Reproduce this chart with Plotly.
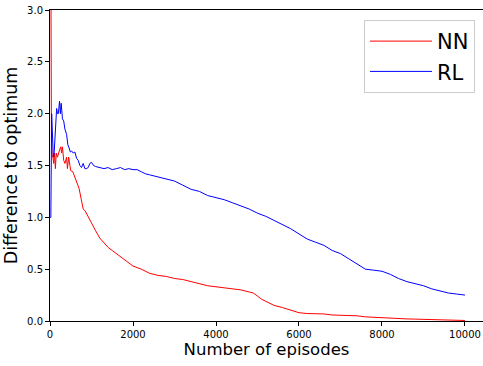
import plotly.graph_objects as go

rl_x = [0, 20, 40, 60, 80, 100, 130, 160, 180, 200, 230, 250, 270, 300, 330, 360, 400, 430, 460, 490,
        520, 560, 600, 640, 680, 720, 760, 800, 840, 880, 920, 960, 1000, 1050, 1100, 1200, 1300, 1400,
        1500, 1600, 1700, 1800, 1900, 2000, 2100, 2200, 2300, 2400, 2600, 2800, 3000, 3200, 3400, 3600,
        3800, 4000, 4200, 4400, 4600, 4800, 5000, 5200, 5400, 5600, 5800, 6000, 6200, 6400, 6600, 6800,
        7000, 7200, 7400, 7600, 7800, 8000, 8200, 8400, 8600, 8800, 9000, 9200, 9400, 9600, 9800, 10000]
rl_y = [1.0, 1.0, 2.0, 1.75, 1.58, 1.62, 1.85, 2.05, 2.0, 2.0, 2.12, 2.0, 2.1, 1.95, 1.93, 1.85, 1.80,
        1.70, 1.67, 1.63, 1.64, 1.62, 1.63, 1.57, 1.55, 1.50, 1.48, 1.52, 1.47, 1.47, 1.48, 1.52, 1.53,
        1.50, 1.49, 1.48, 1.47, 1.48, 1.46, 1.47, 1.48, 1.46, 1.47, 1.46, 1.46, 1.44, 1.42, 1.41, 1.39,
        1.37, 1.35, 1.31, 1.27, 1.25, 1.21, 1.19, 1.17, 1.14, 1.11, 1.08, 1.04, 1.01, 0.97, 0.93, 0.89,
        0.84, 0.79, 0.76, 0.73, 0.68, 0.65, 0.60, 0.55, 0.50, 0.49, 0.48, 0.45, 0.41, 0.38, 0.36, 0.34,
        0.31, 0.29, 0.27, 0.26, 0.25]

nn_x = [0, 20, 35, 50, 70, 90, 110, 130, 150, 180, 200, 230, 260, 280, 300, 330, 360, 400, 420, 450,
        480, 500, 550, 600, 650, 700, 750, 800, 850, 900, 950, 1000, 1100, 1200, 1300, 1400, 1500, 1600,
        1700, 1800, 1900, 2000, 2200, 2400, 2600, 2800, 3000, 3200, 3400, 3600, 3800, 4000, 4200, 4400,
        4600, 4800, 4900, 5000, 5100, 5200, 5400, 5600, 5800, 6000, 6200, 6400, 6600, 6800, 7000, 7200,
        7400, 7600, 7800, 8000, 8200, 8400, 8600, 8800, 9000, 9200, 9400, 9600, 9800, 10000]
nn_y = [6.0, 2.5, 1.75, 1.60, 1.58, 1.52, 1.62, 1.47, 1.62, 1.58, 1.62, 1.65, 1.68, 1.62, 1.68, 1.55,
        1.52, 1.58, 1.47, 1.58, 1.50, 1.45, 1.44, 1.38, 1.32, 1.28, 1.18, 1.08, 1.06, 1.02, 0.98, 0.94,
        0.87, 0.80, 0.75, 0.71, 0.68, 0.65, 0.62, 0.59, 0.56, 0.53, 0.50, 0.46, 0.44, 0.43, 0.41, 0.40,
        0.38, 0.36, 0.34, 0.33, 0.32, 0.31, 0.30, 0.28, 0.27, 0.24, 0.21, 0.19, 0.15, 0.13, 0.105, 0.08,
        0.072, 0.072, 0.068, 0.058, 0.056, 0.054, 0.05, 0.04, 0.035, 0.032, 0.025, 0.022, 0.02, 0.018,
        0.016, 0.015, 0.013, 0.012, 0.01, 0.005]

x_ticks = [0, 2000, 4000, 6000, 8000, 10000]
y_ticks = [0.0, 0.5, 1.0, 1.5, 2.0, 2.5, 3.0]

fig = go.Figure()
fig.add_trace(go.Scatter(x=nn_x, y=nn_y, mode="lines", name="NN",
                         line=dict(color="#ff0000", width=1)))
fig.add_trace(go.Scatter(x=rl_x, y=rl_y, mode="lines", name="RL",
                         line=dict(color="#0000ff", width=1)))

fig.update_layout(
    width=483, height=366,
    margin=dict(l=50, r=0, t=10, b=45),
    paper_bgcolor="white", plot_bgcolor="white",
    font=dict(family="DejaVu Sans", color="black", size=10),
    showlegend=True,
    legend=dict(x=0.9815, y=0.968, xanchor="right", yanchor="top",
                bgcolor="white", bordercolor="#cccccc", borderwidth=1,
                itemwidth=62,
                font=dict(size=21, family="DejaVu Sans"), tracegroupgap=0),
)
fig.update_xaxes(range=[0, 10434], tickvals=x_ticks, ticktext=[str(v) for v in x_ticks],
                 showgrid=False, zeroline=False, showline=True, linecolor="black", linewidth=1,
                 mirror=True, ticks="outside", ticklen=4, tickcolor="black",
                 title=dict(text="Number of episodes", font=dict(size=16.5), standoff=3))
fig.update_yaxes(range=[0, 3.0], tickvals=y_ticks, ticktext=[f"{v:.1f}" for v in y_ticks],
                 showgrid=False, zeroline=False, showline=True, linecolor="black", linewidth=1,
                 ticks="outside", ticklen=4, tickcolor="black",
                 title=dict(text="Difference to optimum", font=dict(size=17.5), standoff=4))

fig.write_html("out.html")
